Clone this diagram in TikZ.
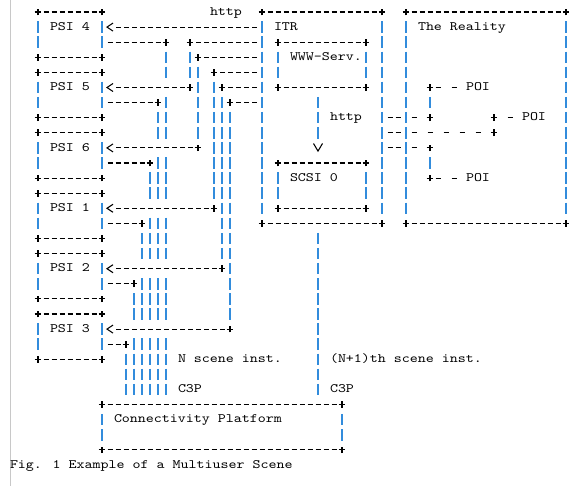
\documentclass[tikz,border=0pt]{standalone}
\usepackage{fontspec}
\newfontfamily\asciifont{lmmono10-regular.otf}[FakeStretch=1.19]
\usetikzlibrary{arrows.meta}
\definecolor{barblue}{RGB}{50,140,220}
\definecolor{pagegray}{RGB}{200,200,200}

% an open "<" tip whose line stops behind the tip
\pgfdeclarearrow{
  name = Asc,
  parameters = {\the\pgfarrowlength,\the\pgfarrowwidth},
  setup code = {
    \pgfarrowssettipend{0pt}
    \dimen0=\pgfarrowlength
    \advance\dimen0 by 2pt
    \pgfarrowssetlineend{-\dimen0}
    \pgfarrowssetbackend{-\pgfarrowlength}
    \pgfarrowlinewidth=\pgflinewidth
    \pgfarrowssavethe\pgfarrowlength
    \pgfarrowssavethe\pgfarrowwidth
  },
  drawing code = {
    \pgfsetdash{}{0pt}
    \pgfpathmoveto{\pgfqpoint{-\pgfarrowlength}{.5\pgfarrowwidth}}
    \pgfpathlineto{\pgfpointorigin}
    \pgfpathlineto{\pgfqpoint{-\pgfarrowlength}{-.5\pgfarrowwidth}}
    \pgfusepathqstroke
  },
  defaults = {length=4.5pt, width=6pt}
}

\newcommand{\plusat}[1]{\draw[pm] ([xshift=-2.5pt]#1) -- ([xshift=2.5pt]#1) ([yshift=-2.5pt]#1) -- ([yshift=2.5pt]#1);}
\newcommand{\asciibox}[5]{%
  \node[boxn, minimum width={(#4-#2)*6pt}, minimum height={(#5-#3)*11.325pt}] (#1) at ({(#2+#4)/2},{(#3+#5)/2}) {};
  \draw[hd] ([xshift=3pt]#1.north west) -- ([xshift=-3pt]#1.north east);
  \draw[hd] ([xshift=3pt]#1.south west) -- ([xshift=-3pt]#1.south east);
  \draw[vd] ([yshift=-5.6625pt]#1.north west) -- ([yshift=5.6625pt]#1.south west);
  \draw[vd] ([yshift=-5.6625pt]#1.north east) -- ([yshift=5.6625pt]#1.south east);
  \plusat{#1.north west}\plusat{#1.north east}\plusat{#1.south west}\plusat{#1.south east}%
}

\begin{document}
\begin{tikzpicture}[x=6pt, y=-11.325pt,
  hd/.style={draw=black, line width=0.8pt, line cap=butt, dash pattern=on 0pt off 1.125pt on 3.75pt off 1.125pt},
  vd/.style={draw=barblue, line width=0.8pt, line cap=butt, dash pattern=on 0pt off 1.35pt on 8.625pt off 1.35pt},
  sd/.style={hd, dash pattern=on 0pt off 1.125pt on 3.75pt off 7.125pt},
  sdb/.style={sd, dash phase=6pt},
  pm/.style={draw=black, line width=0.8pt, solid, line cap=butt},
  boxn/.style={rectangle, draw=none, inner sep=0pt, outer sep=0pt},
  txt/.style={font=\asciifont\fontsize{9.6pt}{11pt}\selectfont, text=black, inner sep=0pt, outer sep=0pt, anchor=base west},
  arr/.style={hd, -{Asc[length=4.5pt, width=6pt]}, preaction={draw=white, solid, line width=10pt, arrows=-}},
  varr/.style={vd, -{Asc[length=5.7pt, width=6.75pt, color=black]}},
]
\useasboundingbox (-1.75,-0.7947) rectangle (71,31.391);
\draw[pagegray, line width=0.75pt] (-0.4375,-0.7947) -- (-0.4375,31.391);

% boxes
\asciibox{psi4}{3}{0}{11}{3}
\asciibox{psi5}{3}{4}{11}{7}
\asciibox{psi6}{3}{8}{11}{11}
\asciibox{psi1}{3}{12}{11}{15}
\asciibox{psi2}{3}{16}{11}{19}
\asciibox{psi3}{3}{20}{11}{23}
\asciibox{itr}{31}{0}{46}{14}
\asciibox{www}{33}{2}{44}{5}
\asciibox{scsi}{33}{10}{44}{13}
\asciibox{real}{49}{0}{69}{14}
\asciibox{cp}{11}{26}{41}{29}

% texts
\node[txt] (t-psi4) at (4.5,1.212) {PSI 4};
\node[txt] (t-psi5) at (4.5,5.212) {PSI 5};
\node[txt] (t-psi6) at (4.5,9.212) {PSI 6};
\node[txt] (t-psi1) at (4.5,13.212) {PSI 1};
\node[txt] (t-psi2) at (4.5,17.212) {PSI 2};
\node[txt] (t-psi3) at (4.5,21.212) {PSI 3};
\node[txt] (t-http1) at (24.5,0.212) {http};
\node[txt] (t-itr) at (32.5,1.212) {ITR};
\node[txt] (t-www) at (34.5,3.212) {WWW-Serv.};
\node[txt] (t-http2) at (39.5,7.212) {http};
\node[txt] (t-scsi) at (34.5,11.212) {SCSI 0};
\node[txt] (t-real) at (50.5,1.212) {The Reality};
\node[txt] (poi1) at (56.5,5.212) {POI};
\node[txt] (poi2) at (63.5,7.212) {POI};
\node[txt] (poi3) at (56.5,11.212) {POI};
\node[txt] (t-nsc) at (20.5,23.212) {N scene inst.};
\node[txt] (t-n1sc) at (39.5,23.212) {(N+1)th scene inst.};
\node[txt] (t-c3pa) at (20.5,25.212) {C3P};
\node[txt] (t-c3pb) at (39.5,25.212) {C3P};
\node[txt] (t-cp) at (12.5,27.212) {Connectivity Platform};
\node[txt] (t-fig) at (-0.5,30.212) {Fig. 1 Example of a Multiuser Scene};

% junctions
\coordinate (c4) at (19,2);  \coordinate (c5) at (18,6);  \coordinate (c6) at (17,10);
\coordinate (c1) at (16,14); \coordinate (c2) at (15,18); \coordinate (c3) at (14,22);
\coordinate (h4) at (12,1);
\coordinate (a5) at (22,2); \coordinate (b5) at (22,5);
\coordinate (a6) at (23,3); \coordinate (b6) at (23,9);
\coordinate (a1) at (25,4); \coordinate (b1) at (25,13);
\coordinate (a2) at (26,5); \coordinate (b2) at (26,17);
\coordinate (a3) at (27,6); \coordinate (b3) at (27,21);
\coordinate (q5) at (52,5); \coordinate (q7) at (52,7); \coordinate (q9) at (52,9);
\coordinate (q11) at (52,11); \coordinate (r7) at (60,7); \coordinate (r8) at (60,8);
\coordinate (e) at ([xshift=-3pt]itr.south);
\coordinate (w) at ([xshift=-3pt]www.south);

% PSI -> Connectivity Platform (C3P)
\foreach \p/\c in {psi4/c4, psi5/c5, psi6/c6, psi1/c1, psi2/c2, psi3/c3}{
  \draw[hd] ([xshift=3pt]\p.east |- \c) -- ([xshift=-3pt]\c);
  \draw[vd] ([yshift=-5.6625pt]\c) -- ([yshift=5.6625pt]cp.north -| \c);
}

% ITR -> Connectivity Platform
\draw[vd] ([yshift=-5.6625pt]e) -- ([yshift=5.6625pt]cp.north -| e);

% WWW-Serv. -> SCSI 0
\draw[varr] ([yshift=-5.6625pt]w) -- ([yshift=8.925pt]scsi.north -| w);

% ITR -- The Reality
\foreach \q in {q7, r8, q9}{
  \draw[hd] ([xshift=3pt]itr.east |- \q) -- ([xshift=-3pt]real.west |- \q);
  \draw[sd] ([xshift=3pt]real.west |- \q) -- ([xshift=-3pt]\q);
}
\draw[vd] ([yshift=-5.6625pt]q5) -- ([yshift=5.6625pt]q7);
\draw[vd] ([yshift=-5.6625pt]q9) -- ([yshift=5.6625pt]q11);
\draw[sd] ([xshift=3pt]q5) -- (poi1.west |- q5);
\draw[sdb] ([xshift=3pt]r7) -- (poi2.west |- r7);
\draw[sd] ([xshift=3pt]q11) -- (poi3.west |- q11);

% ITR -> PSI arrows
\draw[arr] ([xshift=-3pt]itr.west |- h4) -- ([xshift=3.75pt]psi4.east |- h4);
\foreach \a/\b/\p in {a5/b5/psi5, a6/b6/psi6, a1/b1/psi1, a2/b2/psi2, a3/b3/psi3}{
  \draw[hd] ([xshift=-3pt]itr.west |- \a) -- ([xshift=3pt]\a);
  \draw[vd] ([yshift=-5.6625pt]\a) -- ([yshift=5.6625pt]\b);
}
\foreach \b/\p in {b5/psi5, b6/psi6, b1/psi1, b2/psi2, b3/psi3}{
  \draw[arr] ([xshift=-3pt]\b) -- ([xshift=3.75pt]\p.east |- \b);
}

% junction marks
\foreach \j in {c4,c5,c6,c1,c2,c3,a5,b5,a6,b6,a1,b1,a2,b2,a3,b3,q5,q7,q9,q11,r7,r8}{
  \plusat{\j}
}
\end{tikzpicture}
\end{document}
